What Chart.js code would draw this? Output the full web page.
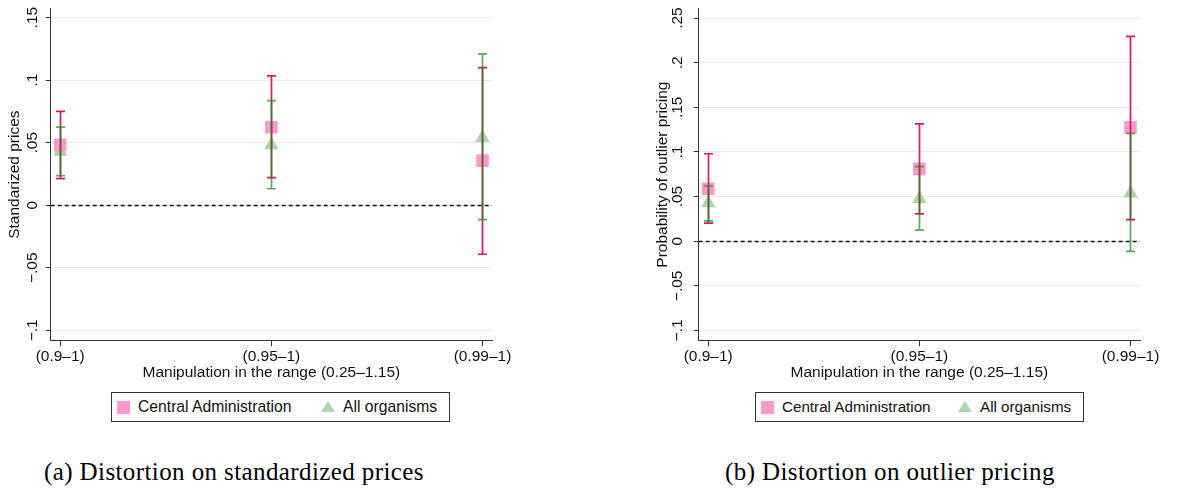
<!DOCTYPE html>
<html>
<head>
<meta charset="utf-8">
<script src="https://cdn.jsdelivr.net/npm/chart.js@4.4.1/dist/chart.umd.min.js"></script>
<style>
  body{margin:0;width:1180px;height:489px;position:relative;background:#fff;overflow:hidden;font-family:"Liberation Sans",Arial,sans-serif;color:#111}
  canvas{position:absolute;top:0}
  .legend{position:absolute;top:392px;height:28px;border:1px solid #333;box-sizing:content-box}
  .legend .sq{position:absolute;top:8px;width:13px;height:13px;background:#ff99cc}
  .legend .tri{position:absolute;top:8px;width:0;height:0;border-left:7.5px solid transparent;border-right:7.5px solid transparent;border-bottom:11px solid #acd6ac}
  .legend span{position:absolute;top:5px;line-height:18px;white-space:nowrap}
  .caption{position:absolute;top:459px;font-family:"Liberation Serif","Times New Roman",serif;font-size:25px;line-height:25px;letter-spacing:0.4px;white-space:nowrap;color:#000}
</style>
</head>
<body>
<canvas id="chartA" width="540" height="390" style="left:0"></canvas>
<canvas id="chartB" width="540" height="390" style="left:640px"></canvas>

<div class="legend" style="left:111px;width:337px;font-size:15.7px">
  <div class="sq" style="left:5px"></div><span style="left:26px">Central Administration</span>
  <div class="tri" style="left:209px"></div><span style="left:231px">All organisms</span>
</div>
<div class="legend" style="left:755px;width:327px;font-size:15.2px">
  <div class="sq" style="left:5px"></div><span style="left:26px">Central Administration</span>
  <div class="tri" style="left:202px"></div><span style="left:224px">All organisms</span>
</div>

<div class="caption" style="left:44px">(a) Distortion on standardized prices</div>
<div class="caption" style="left:725px">(b) Distortion on outlier pricing</div>

<script>
// two Stata-style coefficient plots with 95% CIs, drawn on linear scales

const categories = ['(0.9\u20131)', '(0.95\u20131)', '(0.99\u20131)'];
const xRange = [-0.045, 2.045];
const zeroLine = 0;
const seriesNames = ['Central Administration', 'All organisms'];

// (a) standardized prices
const adminPrice = [0.0483, 0.0623, 0.0357];
const adminPriceLo = [0.0213, 0.0221, -0.0392];
const adminPriceHi = [0.075, 0.1035, 0.110];
const allPrice = [0.043, 0.0481, 0.0539];
const allPriceLo = [0.0237, 0.0132, -0.0115];
const allPriceHi = [0.0624, 0.0837, 0.121];
const priceTicks = [-0.1, -0.05, 0, 0.05, 0.1, 0.15];
const priceTickLabels = ['\u2212.1', '\u2212.05', '0', '.05', '.1', '.15'];
const priceRange = [-0.108, 0.157];

// (b) outlier pricing
const adminOutlier = [0.0588, 0.0811, 0.1276];
const adminOutlierLo = [0.0203, 0.0306, 0.0243];
const adminOutlierHi = [0.098, 0.1315, 0.2296];
const allOutlier = [0.0427, 0.0474, 0.0537];
const allOutlierLo = [0.0228, 0.0125, -0.0114];
const allOutlierHi = [0.0619, 0.0836, 0.1208];
const outlierTicks = [-0.1, -0.05, 0, 0.05, 0.1, 0.15, 0.2, 0.25];
const outlierTickLabels = ['\u2212.1', '\u2212.05', '0', '.05', '.1', '.15', '.2', '.25'];
const outlierRange = [-0.111, 0.2603];

const PINK = '#ff99cc', GREEN = '#acd6ac';
const PINK_CI = 'rgb(218,22,112)', GREEN_CI = 'rgba(22,142,22,0.72)';
const FONT = {family: '"Liberation Sans", Arial, sans-serif', size: 15.5};

// dashed reference line at y = 0
const zeroPlugin = {
  id: 'zero',
  beforeDatasetsDraw(chart){
    const {ctx, chartArea, scales:{y}} = chart;
    const py = Math.round(y.getPixelForValue(zeroLine)) + 0.5;
    ctx.save();
    ctx.strokeStyle = '#111';
    ctx.lineWidth = 1.5;
    ctx.setLineDash([4, 3]);
    ctx.beginPath();
    ctx.moveTo(chartArea.left, py);
    ctx.lineTo(chartArea.right, py);
    ctx.stroke();
    ctx.restore();
  }
};

// range-cap bars, drawn over the markers like rcap in Stata
function ciPlugin(bands){
  return {
    id: 'ci',
    afterDatasetsDraw(chart){
      const {ctx, scales:{x, y}} = chart;
      bands.forEach(b => {
        ctx.save();
        ctx.strokeStyle = b.color;
        ctx.lineWidth = 1.7;
        ctx.beginPath();
        b.lo.forEach((lo, i) => {
          const px = Math.round(x.getPixelForValue(i)) + 0.5;
          const y1 = y.getPixelForValue(lo), y2 = y.getPixelForValue(b.hi[i]);
          ctx.moveTo(px, y1); ctx.lineTo(px, y2);
          ctx.moveTo(px - 4.5, y1); ctx.lineTo(px + 4.5, y1);
          ctx.moveTo(px - 4.5, y2); ctx.lineTo(px + 4.5, y2);
        });
        ctx.stroke();
        ctx.restore();
      });
    }
  };
}

function points(vals){
  return categories.map((c, i) => ({x: i, y: vals[i]}));
}

function makeChart(id, p){
  return new Chart(document.getElementById(id), {
    type: 'scatter',
    data: {
      datasets: [
        {label: seriesNames[0], data: points(p.admin), pointStyle: 'rect', pointRadius: 8.9,
         backgroundColor: PINK, borderWidth: 0, pointHoverRadius: 8.9},
        {label: seriesNames[1], data: points(p.all), pointStyle: 'triangle', pointRadius: 8.4,
         backgroundColor: GREEN, borderWidth: 0, pointHoverRadius: 8.4}
      ]
    },
    options: {
      responsive: false,
      animation: false,
      layout: {padding: {left: p.padLeft, right: p.padRight, top: 4, bottom: 0}},
      plugins: {legend: {display: false}, tooltip: {enabled: false}},
      scales: {
        x: {
          type: 'linear', min: xRange[0], max: xRange[1],
          afterBuildTicks: s => { s.ticks = categories.map((c, i) => ({value: i})); },
          afterFit: s => { s.height = 49.7; s.paddingLeft = 0; s.paddingRight = 0; },
          grid: {drawOnChartArea: false, drawTicks: true, tickLength: 6, tickColor: '#333'},
          border: {display: true, color: '#333', width: 1},
          ticks: {font: FONT, color: '#111', padding: 1.1, maxRotation: 0, autoSkip: false,
                  callback: v => categories[v]},
          title: {display: true, text: 'Manipulation in the range (0.25\u20131.15)', font: FONT,
                  color: '#111', padding: {top: 0, bottom: 7.7}}
        },
        y: {
          type: 'linear', min: p.range[0], max: p.range[1],
          afterBuildTicks: s => { s.ticks = p.ticks.map(v => ({value: v})); },
          afterFit: s => { s.width = 50.7; s.paddingTop = 0; s.paddingBottom = 0; },
          grid: {color: '#e9e9e9', lineWidth: 1, tickLength: 5, tickColor: '#333'},
          border: {display: true, color: '#333', width: 1},
          ticks: {font: FONT, color: '#111', minRotation: 90, maxRotation: 90, crossAlign: 'center',
                  padding: p.tickPad, autoSkip: false,
                  callback: (v, i) => p.tickLabels[i]},
          title: {display: true, text: p.title, font: FONT, color: '#111', padding: {top: 5.7, bottom: 0}}
        }
      }
    },
    plugins: [zeroPlugin, ciPlugin([
      {lo: p.adminLo, hi: p.adminHi, color: PINK_CI},
      {lo: p.allLo, hi: p.allHi, color: GREEN_CI}
    ])]
  });
}

makeChart('chartA', {
  admin: adminPrice, adminLo: adminPriceLo, adminHi: adminPriceHi,
  all: allPrice, allLo: allPriceLo, allHi: allPriceHi,
  ticks: priceTicks, tickLabels: priceTickLabels, range: priceRange,
  title: 'Standarized prices', padLeft: 0, padRight: 48, tickPad: -2.6
});

makeChart('chartB', {
  admin: adminOutlier, adminLo: adminOutlierLo, adminHi: adminOutlierHi,
  all: allOutlier, allLo: allOutlierLo, allHi: allOutlierHi,
  ticks: outlierTicks, tickLabels: outlierTickLabels, range: outlierRange,
  title: 'Probability of outlier pricing', padLeft: 8, padRight: 40, tickPad: 0.4
});
</script>
</body>
</html>
